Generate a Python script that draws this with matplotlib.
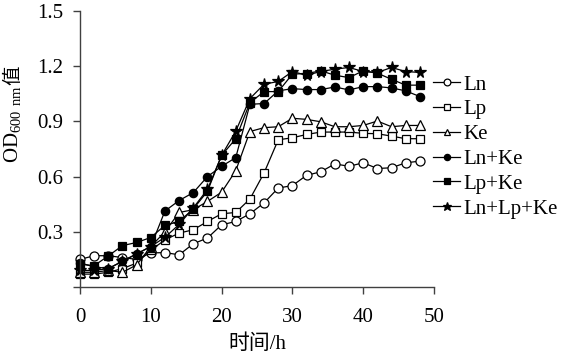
import matplotlib
matplotlib.use("Agg")
import matplotlib.pyplot as plt

plt.rcParams['font.family'] = ['Liberation Serif', 'Noto Sans CJK SC']
plt.rcParams['mathtext.fontset'] = 'custom'
plt.rcParams['mathtext.rm'] = 'Liberation Serif'

time = list(range(0, 49, 2))
ln = [0.15, 0.17, 0.17, 0.16, 0.15, 0.185, 0.187, 0.175, 0.235, 0.266, 0.338, 0.356, 0.398,
      0.457, 0.538, 0.551, 0.607, 0.626, 0.669, 0.656, 0.675, 0.644, 0.648, 0.675, 0.684]
lp = [0.07, 0.07, 0.08, 0.10, 0.13, 0.20, 0.256, 0.293, 0.311, 0.356, 0.398, 0.405, 0.478,
      0.62, 0.80, 0.811, 0.829, 0.842, 0.842, 0.842, 0.835, 0.833, 0.82, 0.806, 0.806]
ke = [0.08, 0.08, 0.09, 0.08, 0.12, 0.22, 0.30, 0.405, 0.42, 0.465, 0.515, 0.632, 0.845,
      0.866, 0.871, 0.917, 0.911, 0.898, 0.871, 0.871, 0.878, 0.902, 0.871, 0.878, 0.878]
ln_ke = [0.13, 0.11, 0.10, 0.14, 0.18, 0.22, 0.413, 0.47, 0.513, 0.60, 0.656, 0.703, 0.993,
         0.997, 1.066, 1.078, 1.073, 1.073, 1.087, 1.071, 1.089, 1.089, 1.082, 1.066, 1.035]
lp_ke = [0.124, 0.116, 0.169, 0.225, 0.242, 0.269, 0.335, 0.356, 0.424, 0.52, 0.715, 0.806, 1.002,
         1.062, 1.062, 1.157, 1.160, 1.175, 1.151, 1.138, 1.175, 1.162, 1.129, 1.097, 1.097]
ln_lp_ke = [0.09, 0.09, 0.10, 0.14, 0.18, 0.22, 0.27, 0.34, 0.43, 0.53, 0.715, 0.847, 1.024,
            1.102, 1.117, 1.171, 1.151, 1.171, 1.184, 1.193, 1.171, 1.166, 1.193, 1.171, 1.166]

labels = ['Ln', 'Lp', 'Ke', 'Ln+Ke', 'Lp+Ke', 'Ln+Lp+Ke']
series = [ln, lp, ke, ln_ke, lp_ke, ln_lp_ke]
styles = [('o', 'white', 6.5), ('s', 'white', 6), ('^', 'white', 6.5),
          ('o', 'black', 6), ('s', 'black', 6), ('*', 'black', 8.5)]

xticks = [0, 10, 20, 30, 40, 50]
yticks = [0, 0.3, 0.6, 0.9, 1.2, 1.5]
yticklabels = ['', '0.3', '0.6', '0.9', '1.2', '1.5']

fig = plt.figure(figsize=(5.62, 3.63), dpi=100)
ax = fig.add_axes([80/562, 1-287/363, (434-80)/562, (287-11)/363])

for y, lab, (m, fc, ms) in zip(series, labels, styles):
    ax.plot(time, y, color='black', lw=0.9, marker=m, markerfacecolor=fc,
            markeredgecolor='black', markeredgewidth=0.9, markersize=ms, label=lab,
            clip_on=False)

ax.set_xlim(0, 50)
ax.set_ylim(0, 1.5)
ax.set_xticks(xticks)
ax.set_yticks(yticks)
ax.set_yticklabels(yticklabels)
for s in ['top', 'right']:
    ax.spines[s].set_visible(False)
for s in ['left', 'bottom']:
    ax.spines[s].set_color('#404040')
    ax.spines[s].set_linewidth(1.0)
ax.tick_params(direction='out', length=5, width=1, color='#404040', labelsize=15)
ax.tick_params(axis='x', pad=10)
ax.tick_params(axis='y', pad=7)

leg = ax.legend(loc='upper left', bbox_to_anchor=(433/562, 1-75/363),
                bbox_transform=fig.transFigure, frameon=False, fontsize=15,
                handlelength=1.3, handletextpad=0.15, labelspacing=0.25,
                markerscale=0.75, borderpad=0, borderaxespad=0)

fig.text(257/562, 1-344/363, '时间/h', ha='center', va='center', fontsize=15)

t1 = fig.text(13/562, 1-163/363, r'OD$_{\mathregular{600\ nm}}$', rotation=90,
              ha='center', va='bottom', fontsize=15)
fig.canvas.draw()
bb = t1.get_window_extent()
fig.text(13/562, (bb.y1 + 1)/363, '值', rotation=90, ha='center', va='bottom', fontsize=14)

fig.savefig('out.png', dpi=100)
